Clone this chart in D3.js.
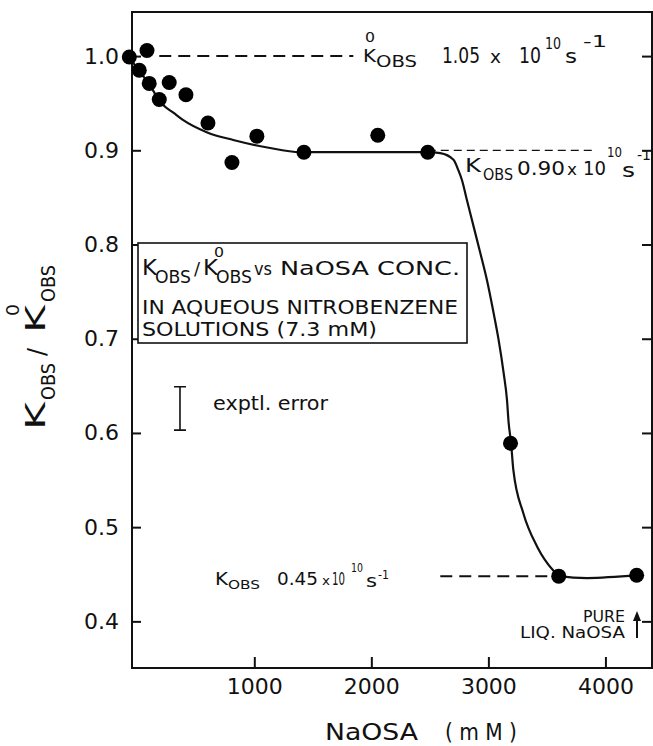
<!DOCTYPE html>
<html>
<head>
<meta charset="utf-8">
<script src="https://cdn.jsdelivr.net/npm/d3@7"></script>
<style>
body { margin: 0; background: #fff; }
text { font-family: "DejaVu Sans", sans-serif; fill: #111; }
</style>
</head>
<body>
<svg id="chart" width="653" height="746"></svg>
<script>
/* Measured points: NaOSA concentration (mM) against kobs / kobs0 */
var naosa = [-68, 83, 17, 102, 273, 416, 188, 604, 809, 1022, 1424, 2055, 2482, 3189, 3601, 4267];
var ratio = [0.999, 1.006, 0.985, 0.971, 0.972, 0.959, 0.954, 0.929, 0.887, 0.915, 0.898, 0.916, 0.898, 0.589, 0.448, 0.449];

/* Hand drawn curve through the points */
var fitX = [-68, 17, 103, 162, 222, 308, 393, 598, 820, 1111, 1393, 1800, 2200, 2482, 2589, 2702, 2743, 2774, 2817, 2874, 2931, 2988, 3045, 3087, 3130, 3159, 3173, 3194, 3213, 3298, 3418, 3555, 3606, 3845, 4272];
var fitY = [0.999, 0.984, 0.970, 0.958, 0.948, 0.940, 0.932, 0.919, 0.911, 0.903, 0.898, 0.898, 0.898, 0.898, 0.897, 0.890, 0.879, 0.8685, 0.847, 0.819, 0.791, 0.762, 0.727, 0.699, 0.664, 0.635, 0.611, 0.589, 0.561, 0.515, 0.479, 0.454, 0.448, 0.446, 0.449];

/* Axis ticks */
var xTicks = [1000, 2000, 3000, 4000];
var yTicks = [0.4, 0.5, 0.6, 0.7, 0.8, 0.9, 1.0];

/* Dashed reference levels and their extent along x */
var refLevel = [1.0, 0.90, 0.448];
var refFrom = [188, 2482, 2589];
var refTo = [1846, 3897, 3601];

/* Experimental error bar */
var errX = 365;
var errLow = 0.603;
var errHigh = 0.649;

var svg = d3.select("#chart");
var plotL = 132, plotR = 652, plotT = 12, plotB = 668;

var x = d3.scaleLinear().domain([-45, 4398]).range([plotL, plotR]);
var y = d3.scaleLinear().domain([0.3505, 1.0468]).range([plotB, plotT]);

/* Frame */
svg.append("rect")
	.attr("x", plotL).attr("y", plotT)
	.attr("width", plotR - plotL).attr("height", plotB - plotT)
	.attr("fill", "none").attr("stroke", "#111").attr("stroke-width", 2);

/* Axes, ticks pointing inward */
var gx = svg.append("g")
	.attr("transform", "translate(0," + plotB + ")")
	.call(d3.axisBottom(x).tickValues(xTicks).tickSizeInner(-11).tickSizeOuter(0).tickPadding(10).tickFormat(d3.format("d")));
var gy = svg.append("g")
	.attr("transform", "translate(" + plotL + ",0)")
	.call(d3.axisLeft(y).tickValues(yTicks).tickSizeInner(-9).tickSizeOuter(0).tickPadding(13).tickFormat(d3.format(".1f")));
var gr = svg.append("g")
	.attr("transform", "translate(" + plotR + ",0)")
	.call(d3.axisRight(y).tickValues(yTicks).tickSizeInner(-10).tickSizeOuter(0).tickFormat(""));

[gx, gy, gr].forEach(function(g) {
	g.select(".domain").remove();
	g.selectAll(".tick line").attr("stroke", "#111").attr("stroke-width", 2);
	g.selectAll(".tick text").attr("font-size", 22).attr("fill", "#111")
		.style("font-family", "DejaVu Sans");
});

/* Dashed reference lines */
refLevel.forEach(function(v, i) {
	svg.append("line")
		.attr("x1", x(refFrom[i])).attr("x2", x(refTo[i]))
		.attr("y1", y(v)).attr("y2", y(v))
		.attr("stroke", "#111")
		.attr("stroke-width", i == 1 ? 1.3 : 2)
		.attr("stroke-dasharray", i == 1 ? "8,5" : "12,7");
});

/* Fitted curve */
var line = d3.line()
	.x(function(d, i) { return x(fitX[i]); })
	.y(function(d, i) { return y(fitY[i]); })
	.curve(d3.curveMonotoneX);
svg.append("path")
	.datum(fitX)
	.attr("d", line)
	.attr("fill", "none")
	.attr("stroke", "#111")
	.attr("stroke-width", 2.2);

/* Data points */
svg.selectAll(".pt")
	.data(naosa)
	.enter().append("circle")
	.attr("class", "pt")
	.attr("cx", function(d) { return x(d); })
	.attr("cy", function(d, i) { return y(ratio[i]); })
	.attr("r", 7.5)
	.attr("fill", "#000");

/* Error bar */
var ex = x(errX);
svg.append("path")
	.attr("d", "M" + (ex - 6) + "," + y(errHigh) + "H" + (ex + 6) +
		"M" + ex + "," + y(errHigh) + "V" + y(errLow) +
		"M" + (ex - 6) + "," + y(errLow) + "H" + (ex + 6))
	.attr("stroke", "#111").attr("stroke-width", 1.6).attr("fill", "none");

/* Text helper: optional len stretches the glyphs to the lettering width */
function label(g, px, py, str, size, len) {
	var t = g.append("text")
		.attr("x", px).attr("y", py)
		.attr("font-size", size)
		.text(str);
	if (len) t.attr("textLength", len).attr("lengthAdjust", "spacingAndGlyphs");
	return t;
}

label(svg, 213, 410, "exptl. error", 20, 115);

/* k0 annotation at 1.0 */
label(svg, 363, 62, "K", 17, 13);
label(svg, 365, 42, "0", 14, 10);
label(svg, 376, 67, "OBS", 16, 41);
label(svg, 442, 63, "1.05", 22, 38);
label(svg, 490, 63, "x", 17, 11);
label(svg, 519, 63, "10", 22, 22);
label(svg, 545, 49, "10", 16, 16);
label(svg, 565, 63, "s", 20, 12);
label(svg, 583, 47, "-1", 16, 24);

/* plateau annotation at 0.90 */
label(svg, 465, 172, "K", 20, 16);
label(svg, 483, 180, "OBS", 15, 30);
label(svg, 517, 175, "0.90", 20, 48);
label(svg, 567, 175, "x", 16, 10);
label(svg, 583, 175, "10", 20, 23);
label(svg, 607, 157, "10", 14, 15);
label(svg, 622, 177, "s", 20, 13);
label(svg, 637, 160, "-1", 14, 14);

/* low plateau annotation at 0.45 */
label(svg, 215, 585, "K", 17, 13);
label(svg, 228, 589, "OBS", 13, 32);
label(svg, 277, 585, "0.45", 18, 41);
label(svg, 322, 585, "x", 13, 8);
label(svg, 332, 585, "10", 18, 13);
label(svg, 351, 572, "10", 12, 12);
label(svg, 366, 587, "s", 18, 11);
label(svg, 378, 579, "-1", 13, 11);

/* Boxed title */
svg.append("rect")
	.attr("x", 138).attr("y", 243).attr("width", 329).attr("height", 100)
	.attr("fill", "#fff").attr("stroke", "#111").attr("stroke-width", 1.6);
label(svg, 142, 275, "K", 21, 15);
label(svg, 155, 283, "OBS", 17, 36);
label(svg, 194, 275, "/", 18);
label(svg, 203, 275, "K", 21, 15);
label(svg, 214, 257, "0", 14, 10);
label(svg, 216, 283, "OBS", 17, 36);
label(svg, 254, 275, "vs", 17, 18);
label(svg, 280, 275, "NaOSA CONC.", 20, 180);
label(svg, 142, 314, "IN AQUEOUS NITROBENZENE", 20, 316);
label(svg, 142, 336, "SOLUTIONS (7.3 mM)", 19, 235);

/* Pure liquid marker */
label(svg, 583, 622, "PURE", 15, 42);
label(svg, 520, 638, "LIQ. NaOSA", 15, 105);
svg.append("line")
	.attr("x1", 637).attr("x2", 637).attr("y1", 638).attr("y2", 618)
	.attr("stroke", "#111").attr("stroke-width", 2);
svg.append("path")
	.attr("d", "M637,611L633,621L641,621Z")
	.attr("fill", "#111");

/* Axis titles */
label(svg, 325, 740, "NaOSA", 23, 93);
label(svg, 445, 740, "( m M )", 23, 72);

var yl = svg.append("g").attr("transform", "translate(45,430) rotate(-90)");
label(yl, 0, 0, "K", 27, 28);
label(yl, 30, 10, "OBS", 19, 37);
label(yl, 74, 0, "/", 24);
label(yl, 97, 0, "K", 27, 28);
label(yl, 114, -26, "0", 18, 12);
label(yl, 128, 10, "OBS", 19, 37);
</script>
</body>
</html>
